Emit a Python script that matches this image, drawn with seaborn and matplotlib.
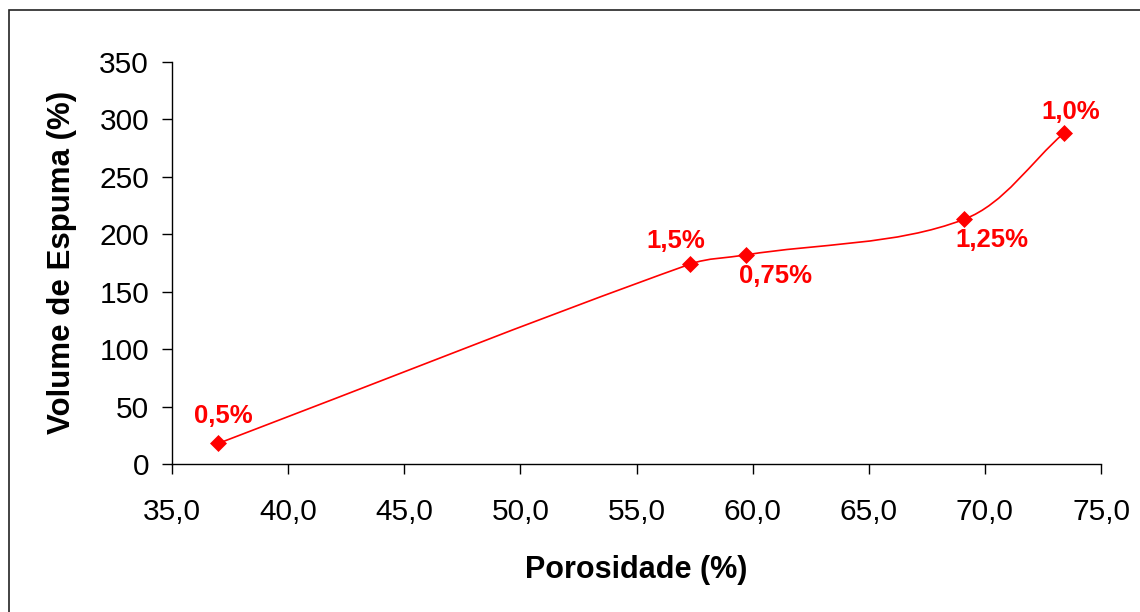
import matplotlib
matplotlib.use("Agg")
import matplotlib.pyplot as plt
from matplotlib.path import Path
from matplotlib.patches import PathPatch, Rectangle
import numpy as np
import pandas as pd
import seaborn as sns

# Foam volume versus porosity, one point per surfactant concentration
porosidade = [37.0, 57.3, 59.7, 69.1, 73.4]
volume_espuma = [18, 174, 182, 213, 288]
concentracao = ["0,5%", "1,5%", "0,75%", "1,25%", "1,0%"]

x_ticks = [35, 40, 45, 50, 55, 60, 65, 70, 75]
y_ticks = [0, 50, 100, 150, 200, 250, 300, 350]

# where each concentration label sits relative to its point (pixels)
label_offsets = [(5, 27), (-14, 23), (30, -21), (28, -21), (7, 21)]

RED = "#ff0000"

sns.set_style("ticks")
plt.rcParams["font.family"] = ["Liberation Sans", "DejaVu Sans"]
plt.rcParams["text.color"] = "black"
plt.rcParams["axes.labelcolor"] = "black"

fig = plt.figure(figsize=(11.4, 6.12), dpi=100)
ax = fig.add_axes([0.1509, 0.2418, 0.8149, 0.6569])
ax.set_xlim(35, 75)
ax.set_ylim(0, 350)

df = pd.DataFrame({"Porosidade": porosidade, "Volume": volume_espuma,
                   "Concentracao": concentracao})

# smoothed connecting line: cubic Bezier segments built in display space,
# tangent along the neighbouring chord, handle length a third of the segment
disp = ax.transData.transform(np.column_stack([porosidade, volume_espuma]))
n = len(disp)
tangents = []
for i in range(n):
    d = disp[min(i + 1, n - 1)] - disp[max(i - 1, 0)]
    tangents.append(d / np.hypot(*d))
verts = [disp[0]]
codes = [Path.MOVETO]
for i in range(n - 1):
    seg = np.hypot(*(disp[i + 1] - disp[i])) / 3.0
    verts += [disp[i] + tangents[i] * seg,
              disp[i + 1] - tangents[i + 1] * seg,
              disp[i + 1]]
    codes += [Path.CURVE4] * 3
data_verts = ax.transData.inverted().transform(np.array(verts))
ax.add_patch(PathPatch(Path(data_verts, codes), facecolor="none",
                       edgecolor=RED, lw=1.2, zorder=2))

sns.scatterplot(data=df, x="Porosidade", y="Volume", ax=ax, marker="D",
                s=75, color=RED, edgecolor=RED, linewidth=0, zorder=3,
                legend=False)

for xv, yv, txt, (dx, dy) in zip(porosidade, volume_espuma, concentracao,
                                 label_offsets):
    ax.annotate(txt, (xv, yv), xytext=(dx, dy), textcoords="offset pixels",
                ha="center", va="center", color=RED, fontsize=18.5,
                fontweight="bold")

ax.set_xticks(x_ticks)
ax.set_xticklabels([f"{v:.1f}".replace(".", ",") for v in x_ticks])
ax.set_yticks(y_ticks)
ax.set_yticklabels([str(v) for v in y_ticks])
ax.tick_params(axis="both", direction="out", length=7.5, width=1.0,
               colors="black", labelsize=21.5)
ax.tick_params(axis="y", pad=9)
ax.tick_params(axis="x", pad=17)

sns.despine(ax=ax)
for side in ("left", "bottom"):
    ax.spines[side].set_color("black")
    ax.spines[side].set_linewidth(1.0)

ax.set_xlabel("Porosidade (%)", fontsize=22, fontweight="bold", color="black")
ax.set_ylabel("Volume de Espuma (%)", fontsize=22.5, fontweight="bold",
              color="black")
ax.xaxis.set_label_coords(0.5, -0.226)
ax.yaxis.set_label_coords(-0.102, 0.5025)

# chart area frame
fig.add_artist(Rectangle((9 / 1140, -0.05), 1.2, 1 - 10 / 612 + 0.05,
                         transform=fig.transFigure, fill=False,
                         edgecolor="#222222", lw=1.2))

fig.savefig("out.png", dpi=100, facecolor="white")
